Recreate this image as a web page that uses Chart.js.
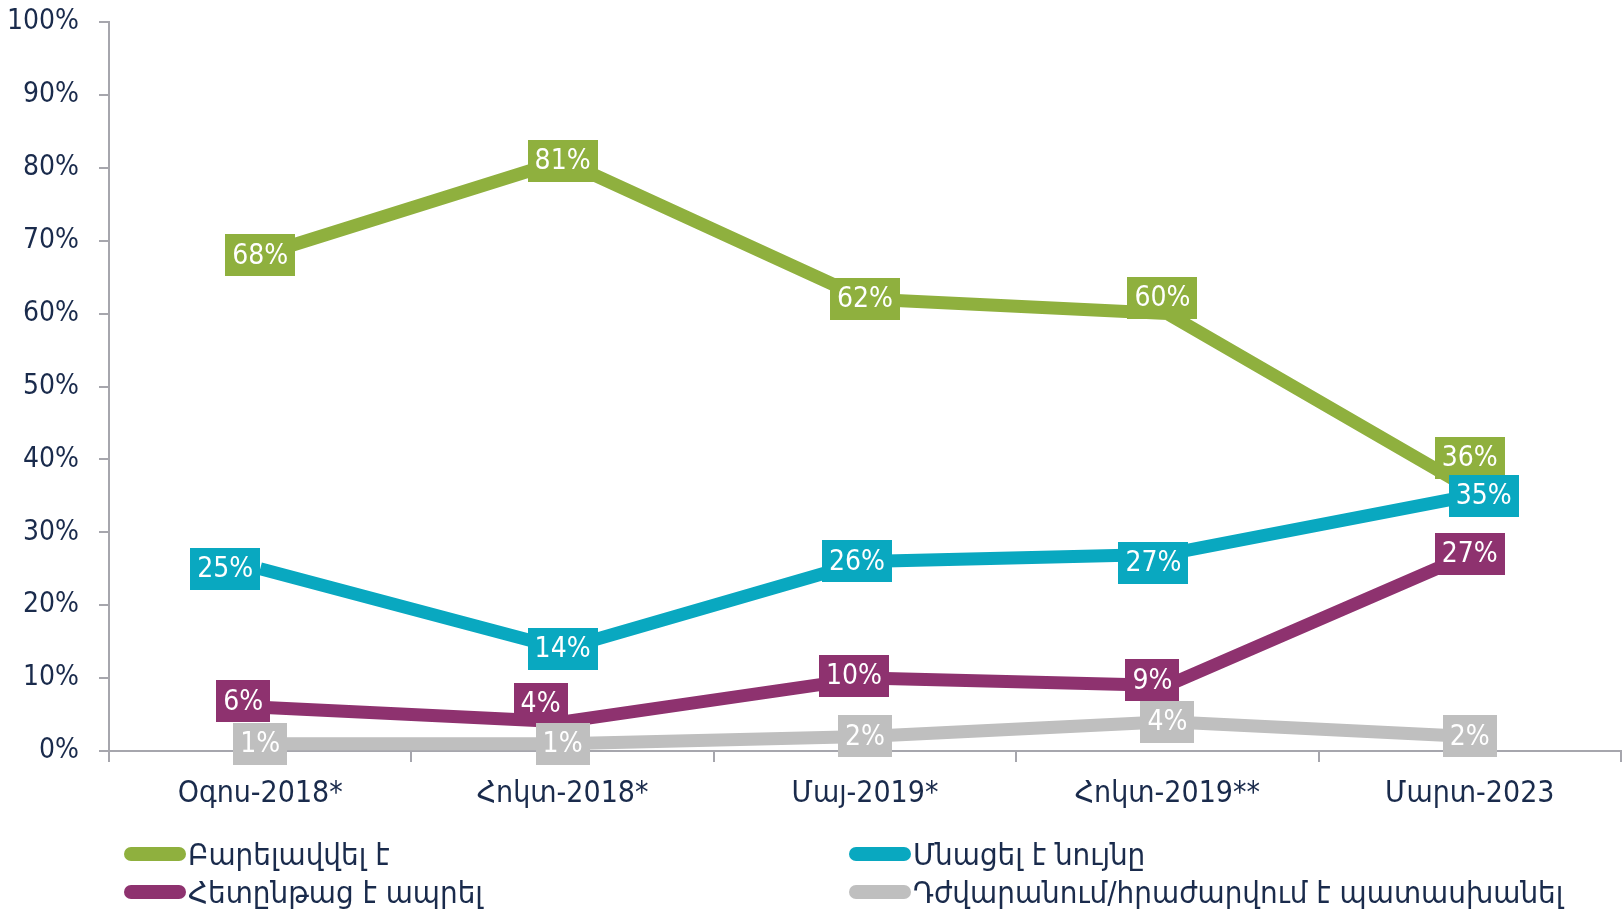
<!DOCTYPE html>
<html><head><meta charset="utf-8">
<script src="https://cdn.jsdelivr.net/npm/chart.js@4.4.1/dist/chart.umd.min.js"></script>
<style>
html,body{margin:0;padding:0;background:#fff;}
#wrap{position:relative;width:1623px;height:912px;overflow:hidden;}
#c{position:absolute;left:0;top:0;}
.leg{position:absolute;font-family:"DejaVu Sans Condensed","DejaVu Sans",sans-serif;font-size:31px;color:#1a2b4c;display:flex;align-items:center;white-space:nowrap;height:36px;}
.sw{width:62px;height:14px;border-radius:7px;margin-right:2px;flex:none;}
</style></head>
<body><div id="wrap"><canvas id="c" width="1623" height="912"></canvas>
<div id="legend"></div></div>
<script>
const categories = ['Օգոս-2018*','Հոկտ-2018*','Մայ-2019*','Հոկտ-2019**','Մարտ-2023'];
const seriesNames = ['Բարելավվել է','Մնացել է նույնը','Հետընթաց է ապրել','Դժվարանում/հրաժարվում է պատասխանել'];
const improved = [68,81,62,60,36];
const same = [25,14,26,27,35];
const worse = [6,4,10,9,27];
const hard = [1,1,2,4,2];
const yTicks = [0,10,20,30,40,50,60,70,80,90,100];

const colors = ['#8fb03e','#09a8c0','#8e326f','#bfbfbf'];
// label nudges (px) so boxes sit as in the original
const labelShift = [
  [[0,0],[0,0],[0,0],[-5,-16],[0,-31]],
  [[-35,0],[0,0],[-8,0],[-14,9],[14,0]],
  [[-17,-6],[-22,-18],[-11,-2],[-15,-5],[0,0]],
  [[0,0],[0,0],[0,0],[0,0],[0,0]]
];
const FONT = '"DejaVu Sans Condensed","DejaVu Sans",sans-serif';
const ink = '#1a2b4c';
const axisCol = '#a6a6ad';

const labelPlugin = {
  id:'boxLabels',
  afterDatasetsDraw(chart){
    const ctx = chart.ctx;
    ctx.save();
    ctx.font = '28px ' + FONT;
    ctx.textAlign='center'; ctx.textBaseline='middle';
    chart.data.datasets.forEach((ds,di)=>{
      const meta = chart.getDatasetMeta(di);
      meta.data.forEach((pt,i)=>{
        const t = ds.data[i] + '%';
        const w = ctx.measureText(t).width + 14, h = 42;
        const x = pt.x + labelShift[di][i][0], y = pt.y + labelShift[di][i][1];
        ctx.fillStyle = ds.borderColor;
        ctx.fillRect(Math.round(x-w/2), Math.round(y-h/2), Math.round(w), h);
        ctx.fillStyle = '#ffffff';
        ctx.fillText(t, x, y+1);
      });
    });
    ctx.restore();
  }
};

const seriesData = [improved, same, worse, hard];
new Chart(document.getElementById('c'), {
  type:'line',
  data:{
    labels: categories,
    datasets: seriesData.map((d,i)=>({
      label: seriesNames[i], data: d, borderColor: colors[i], backgroundColor: colors[i],
      borderWidth: 13, pointRadius: 0, tension: 0, borderJoinStyle:'round', borderCapStyle:'butt'
    }))
  },
  options:{
    responsive:false, animation:false, devicePixelRatio:1,
    layout:{padding:{top:22,right:2,left:0,bottom:0}},
    plugins:{legend:{display:false}, tooltip:{enabled:false}},
    scales:{
      x:{
        offset:true,
        grid:{offset:true, drawOnChartArea:false, tickLength:11, color:axisCol, lineWidth:2},
        border:{color:axisCol, width:2},
        ticks:{color:ink, font:{family:FONT, size:30}, padding:14, maxRotation:0, autoSkip:false},
        afterFit(s){ s.height = 161; }
      },
      y:{
        min:0, max:100,
        afterBuildTicks(s){ s.ticks = yTicks.map(v=>({value:v})); },
        grid:{drawOnChartArea:false, tickLength:10, color:axisCol, lineWidth:2},
        border:{color:axisCol, width:2},
        ticks:{color:ink, font:{family:FONT, size:28}, padding:20, callback:v=>v+'%'},
        afterFit(s){ s.width = 109; s.paddingTop = 0; s.paddingBottom = 0; }
      }
    }
  },
  plugins:[labelPlugin]
});

const legPos = [[124,836],[849,836],[124,874],[849,874]];
const lg = document.getElementById('legend');
seriesNames.forEach((n,i)=>{
  const d = document.createElement('div');
  d.className='leg';
  d.style.left = legPos[i][0]+'px'; d.style.top = legPos[i][1]+'px';
  d.innerHTML = '<span class="sw" style="background:'+colors[i]+'"></span><span>'+n+'</span>';
  lg.appendChild(d);
});
</script></body></html>
